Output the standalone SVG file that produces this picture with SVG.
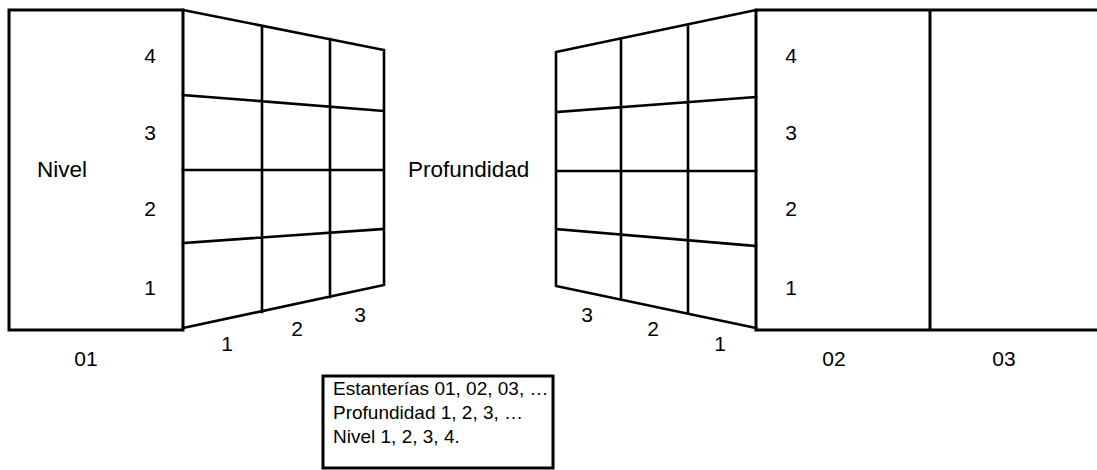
<svg xmlns="http://www.w3.org/2000/svg" width="1097" height="470" viewBox="0 0 1097 470">
<style>
.box{fill:none;stroke:#000;stroke-width:3}
.grid{fill:none;stroke:#000;stroke-width:2.6;stroke-linecap:square}
text{font-family:"Liberation Sans",Arial,sans-serif;font-size:21px;fill:#000}
.c{text-anchor:middle}
.lbl{font-size:22.5px}
.leg{font-size:19px}
</style>
<rect width="1097" height="470" fill="#fff"/>
<g id="shelf01">
<rect class="box" x="9" y="10" width="174" height="320"/>
<text class="lbl" x="37" y="177">Nivel</text>
<text class="c" x="150" y="63">4</text>
<text class="c" x="150" y="140">3</text>
<text class="c" x="150" y="216">2</text>
<text class="c" x="150" y="295">1</text>
<text class="c" x="86" y="366">01</text>
</g>
<g id="grid-left">
<path class="grid" d="M183,10 L384,50 L384,285 L183,328 M262,26 L262,312 M330,39 L330,297 M183,95 L384,111 M183,170 L384,170 M183,243 L384,229"/>
<text class="c" x="227" y="351">1</text>
<text class="c" x="297" y="336">2</text>
<text class="c" x="360" y="322">3</text>
</g>
<g id="label-profundidad">
<text class="lbl" x="408" y="177">Profundidad</text>
</g>
<g id="grid-right">
<path class="grid" d="M756,10 L556,52 L556,286 L756,328 M621,39 L621,299 M688,25 L688,313 M556,112 L756,97 M556,171 L756,171 M556,229 L756,246"/>
<text class="c" x="587" y="322">3</text>
<text class="c" x="653" y="336">2</text>
<text class="c" x="720" y="351">1</text>
</g>
<g id="shelf02">
<path class="box" d="M1100,10 L756,10 L756,330 L1100,330 M930,10 L930,330"/>
<text class="c" x="791" y="63">4</text>
<text class="c" x="791" y="140">3</text>
<text class="c" x="791" y="216">2</text>
<text class="c" x="791" y="295">1</text>
<text class="c" x="834" y="366">02</text>
</g>
<g id="shelf03">
<text class="c" x="1004" y="366">03</text>
</g>
<g id="legend">
<rect class="box" x="323" y="376" width="230" height="92"/>
<text class="leg" x="333" y="395">Estanterías 01, 02, 03, …</text>
<text class="leg" x="333" y="419">Profundidad 1, 2, 3, …</text>
<text class="leg" x="333" y="443">Nivel 1, 2, 3, 4.</text>
</g>
<g id="connectors"></g>
</svg>
